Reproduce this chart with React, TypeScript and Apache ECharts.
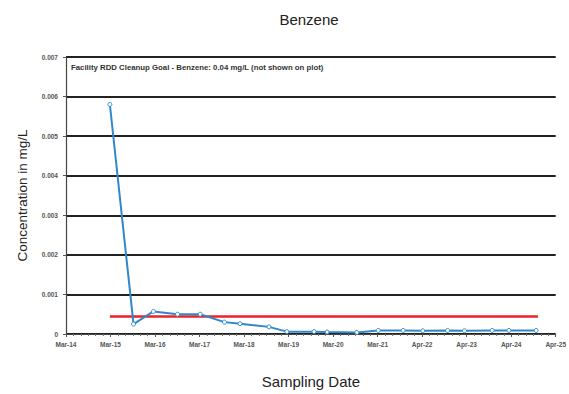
import React, { useEffect, useRef } from "react";
import * as echarts from "echarts";

const sampleDates = [
  "2015-03-10", "2015-09-20", "2016-03-01", "2016-09-15", "2017-03-20",
  "2017-10-05", "2018-02-10", "2018-10-05", "2019-03-01", "2019-10-10",
  "2020-01-25", "2020-09-25", "2021-03-20", "2021-10-10", "2022-03-20",
  "2022-10-10", "2023-02-25", "2023-10-10", "2024-02-25", "2024-10-05",
];
const benzene = [
  0.0058, 0.00025, 0.00057, 0.0005, 0.0005,
  0.0003, 0.00026, 0.00018, 0.00006, 0.00006,
  0.00005, 0.00004, 0.00009, 0.00009, 0.00008,
  0.00009, 0.00008, 0.00009, 0.00009, 0.00009,
];
const goalDates = ["2015-03-10", "2024-10-20"];
const goalValues = [0.00044, 0.00044];
const xTickLabels = [
  "Mar-14", "Mar-15", "Mar-16", "Mar-17", "Mar-18", "Mar-19",
  "Mar-20", "Mar-21", "Apr-22", "Apr-23", "Apr-24", "Apr-25",
];
const yTickLabels = ["0", "0.001", "0.002", "0.003", "0.004", "0.005", "0.006", "0.007"];

const axisStart = Date.UTC(2014, 2, 15);
const toYears = (d: string) => {
  const [y, m, day] = d.split("-").map(Number);
  return (Date.UTC(y, m - 1, day) - axisStart) / (365.25 * 86400000);
};

export default function App() {
  const ref = useRef<HTMLDivElement>(null);
  useEffect(() => {
    if (!ref.current) return;
    const chart = echarts.init(ref.current, undefined, { renderer: "svg" });
    const font = "'Liberation Sans', Arial, sans-serif";
    chart.setOption({
      animation: false,
      backgroundColor: "#ffffff",
      title: {
        text: "Benzene",
        left: 304,
        textAlign: "center",
        top: 7,
        textStyle: { fontFamily: font, fontSize: 15, fontWeight: "normal", color: "#222" },
      },
      grid: { left: 66, right: 8, top: 57, bottom: 57, containLabel: false },
      graphic: [
        {
          type: "text",
          left: 71,
          top: 63,
          style: {
            text: "Facility RDD Cleanup Goal - Benzene: 0.04 mg/L (not shown on plot)",
            fontFamily: font,
            fontSize: 7.8,
            fontWeight: "bold",
            fill: "#333",
          },
        },
      ],
      xAxis: {
        type: "value",
        min: 0,
        max: 11,
        interval: 1,
        name: "Sampling Date",
        nameLocation: "middle",
        nameGap: 40,
        nameTextStyle: { fontFamily: font, fontSize: 15, color: "#222" },
        axisLine: { show: true, onZero: false, lineStyle: { color: "#444", width: 1.2 } },
        axisTick: { show: true, length: 3, inside: false, lineStyle: { color: "#555" } },
        minorTick: { show: true, splitNumber: 6, length: 2, lineStyle: { color: "#777" } },
        splitLine: { show: false },
        axisLabel: {
          formatter: (v: number) => xTickLabels[Math.round(v)] ?? "",
          fontFamily: font,
          fontSize: 6.5,
          fontWeight: "bold",
          color: "#555",
          margin: 7,
          showMaxLabel: true,
        },
      },
      yAxis: {
        type: "value",
        min: 0,
        max: 0.007,
        interval: 0.001,
        name: "Concentration in mg/L",
        nameLocation: "middle",
        nameGap: 37,
        nameRotate: 90,
        nameTextStyle: { fontFamily: font, fontSize: 13.5, color: "#222" },
        axisLine: { show: true, lineStyle: { color: "#444", width: 1.2 } },
        axisTick: { show: true, length: 3, lineStyle: { color: "#555" } },
        splitLine: { show: true, lineStyle: { color: "#222", width: 1.8 } },
        axisLabel: {
          formatter: (v: number) => yTickLabels[Math.round(v / 0.001)] ?? "",
          fontFamily: font,
          fontSize: 6.5,
          fontWeight: "bold",
          color: "#555",
          margin: 8,
        },
      },
      series: [
        {
          type: "line",
          name: "Goal",
          data: goalDates.map((d, i) => [toYears(d), goalValues[i]]),
          showSymbol: false,
          lineStyle: { color: "#ec2227", width: 2.5 },
          z: 2,
        },
        {
          type: "line",
          name: "Benzene",
          data: sampleDates.map((d, i) => [toYears(d), benzene[i]]),
          symbol: "circle",
          symbolSize: 4,
          itemStyle: { color: "#ffffff", borderColor: "#2f88c9", borderWidth: 1 },
          lineStyle: { color: "#2f88c9", width: 2 },
          z: 3,
        },
      ],
    });
    return () => chart.dispose();
  }, []);
  return <div ref={ref} style={{ width: 569, height: 394, position: "absolute", left: 0, top: 0 }} />;
}
